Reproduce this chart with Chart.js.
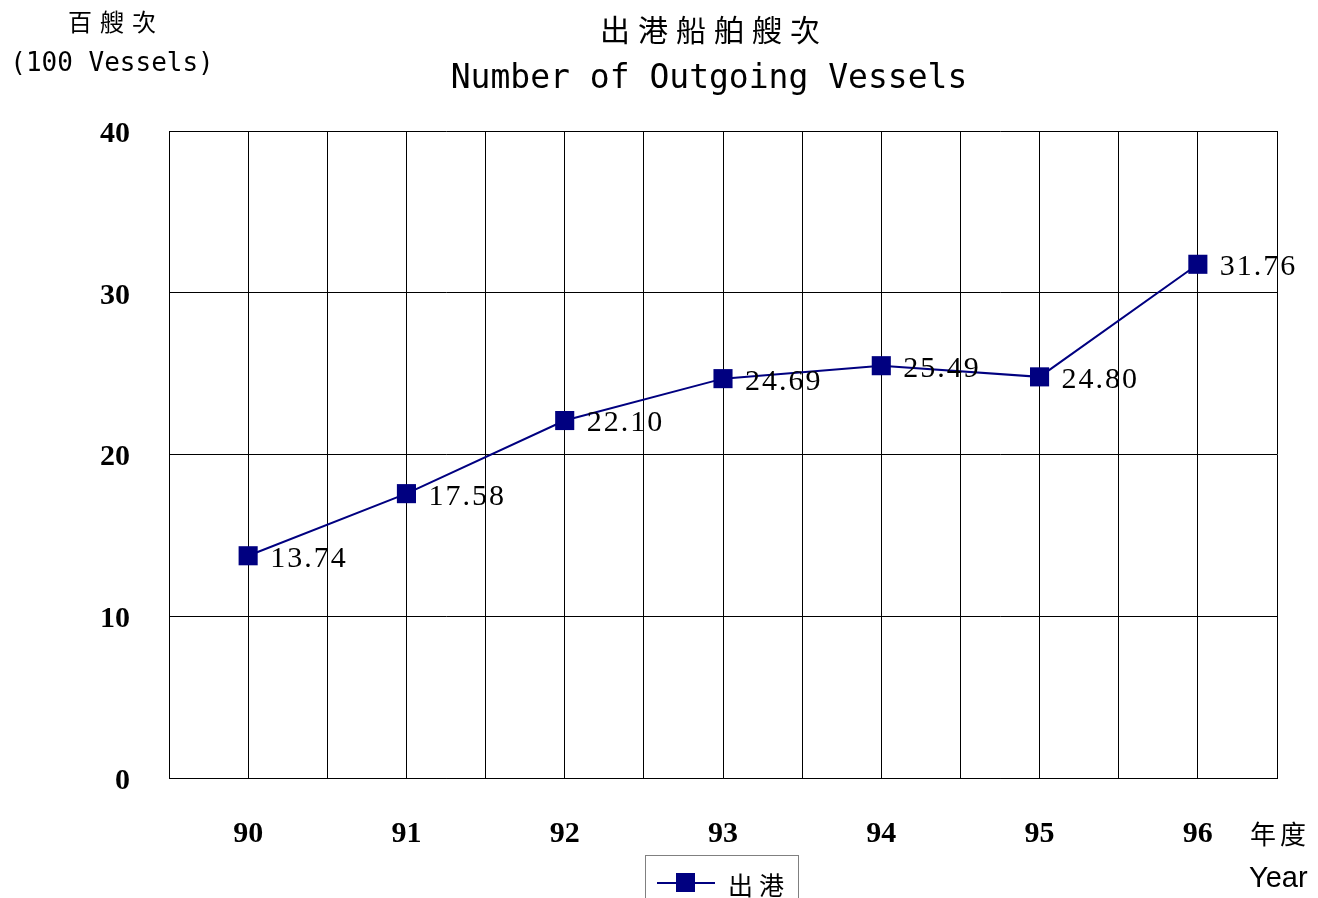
<!DOCTYPE html>
<html>
<head>
<meta charset="utf-8">
<script src="https://cdn.jsdelivr.net/npm/chart.js@4"></script>
<style>
  html, body { margin: 0; padding: 0; background: #fff; }
  #wrap { width: 1318px; height: 898px; position: relative; }
</style>
</head>
<body>
<div id="wrap"><canvas id="vessels"></canvas></div>
<script>
// ---- data ----
const years = [90, 91, 92, 93, 94, 95, 96];
const outgoing = [13.74, 17.58, 22.10, 24.69, 25.49, 24.80, 31.76];
const yTicks = [0, 10, 20, 30, 40];

const NAVY = '#000080';
const CJK = '"Noto Sans CJK TC", "Noto Sans CJK SC", sans-serif';
const MONO = '"DejaVu Sans Mono", "Liberation Mono", monospace';
const SERIF = '"Liberation Serif", "DejaVu Serif", serif';

// ---- titles, point labels, legend ----
const decorations = {
  id: 'decorations',
  afterDatasetsDraw(chart) {
    const { ctx } = chart;
    const meta = chart.getDatasetMeta(0);

    // value labels next to each point
    ctx.save();
    ctx.fillStyle = '#000';
    ctx.font = '30px ' + SERIF;
    ctx.letterSpacing = '2px';
    ctx.textAlign = 'left';
    ctx.textBaseline = 'middle';
    meta.data.forEach((pt, i) => {
      ctx.fillText(outgoing[i].toFixed(2), pt.x + 22, pt.y + 3);
    });
    ctx.restore();
  },
  afterDraw(chart) {
    const { ctx } = chart;
    ctx.save();
    ctx.fillStyle = '#000';
    ctx.textBaseline = 'middle';
    ctx.textAlign = 'center';

    // title
    ctx.font = '30px ' + CJK;
    ctx.letterSpacing = '8px';
    ctx.fillText('出港船舶艘次', 714, 30);
    ctx.letterSpacing = '0px';
    ctx.font = '33px ' + MONO;
    ctx.fillText('Number of Outgoing Vessels', 709, 79);

    // y axis unit
    ctx.font = '24px ' + CJK;
    ctx.letterSpacing = '8px';
    ctx.fillText('百艘次', 116, 22);
    ctx.letterSpacing = '0px';
    ctx.font = '26px ' + MONO;
    ctx.fillText('(100 Vessels)', 112, 64);

    // x axis unit
    ctx.textAlign = 'left';
    ctx.font = '26px ' + CJK;
    ctx.letterSpacing = '4px';
    ctx.fillText('年度', 1250, 834);
    ctx.letterSpacing = '0px';
    ctx.font = '29px "Liberation Sans", Arial, sans-serif';
    ctx.fillText('Year', 1249, 879);

    // legend box (cut off at bottom edge)
    ctx.strokeStyle = '#808080';
    ctx.lineWidth = 1;
    ctx.strokeRect(645.5, 855.5, 153, 60);
    ctx.strokeStyle = NAVY;
    ctx.lineWidth = 2;
    ctx.beginPath();
    ctx.moveTo(657, 883);
    ctx.lineTo(715, 883);
    ctx.stroke();
    ctx.fillStyle = NAVY;
    ctx.fillRect(676, 873, 19, 19);
    ctx.fillStyle = '#000';
    ctx.font = '25px ' + CJK;
    ctx.letterSpacing = '6px';
    ctx.fillText('出港', 728, 885);
    ctx.restore();
  }
};

new Chart(document.getElementById('vessels'), {
  type: 'line',
  data: {
    datasets: [{
      label: '出港',
      data: years.map((y, i) => ({ x: y, y: outgoing[i] })),
      borderColor: NAVY,
      backgroundColor: NAVY,
      borderWidth: 2,
      pointStyle: 'rect',
      pointRadius: 13.5,
      pointBorderWidth: 0,
      tension: 0,
    }],
  },
  options: {
    responsive: true,
    maintainAspectRatio: false,
    animation: false,
    layout: { padding: { top: 131, right: 41, left: 0, bottom: 0 } },
    plugins: {
      legend: { display: false },
      title: { display: false },
      tooltip: { enabled: false },
    },
    scales: {
      x: {
        type: 'linear',
        min: years[0] - 0.5,
        max: years[years.length - 1] + 0.5,
        afterBuildTicks: (axis) => {
          const t = [];
          for (let v = axis.min; v <= axis.max + 1e-9; v += 0.5) t.push({ value: v });
          axis.ticks = t;
        },
        afterFit: (axis) => { axis.height = 120; },
        grid: { color: '#000', lineWidth: 1, drawTicks: false },
        border: { color: '#000', width: 1 },
        ticks: {
          padding: 38,
          color: '#000',
          maxRotation: 0,
          autoSkip: false,
          font: { family: SERIF, size: 30, weight: 'bold' },
          callback: (v) => (Number.isInteger(v) ? String(v) : ''),
        },
      },
      y: {
        min: 0,
        max: 40,
        afterBuildTicks: (axis) => { axis.ticks = yTicks.map(v => ({ value: v })); },
        afterFit: (axis) => { axis.width = 169; },
        grid: { color: '#000', lineWidth: 1, drawTicks: false },
        border: { color: '#000', width: 1 },
        ticks: {
          padding: 39,
          labelOffset: 3,
          color: '#000',
          font: { family: SERIF, size: 30, weight: 'bold' },
        },
      },
    },
  },
  plugins: [decorations],
});
</script>
</body>
</html>
